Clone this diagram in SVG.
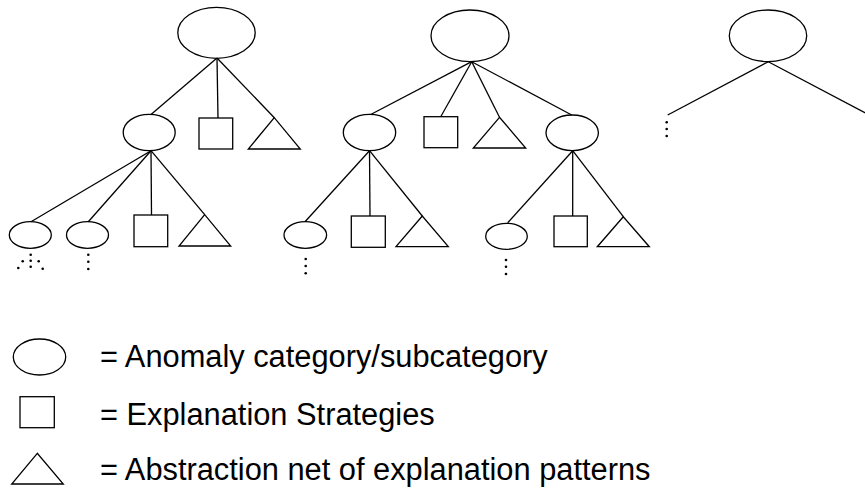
<svg xmlns="http://www.w3.org/2000/svg" width="865" height="489" viewBox="0 0 865 489">
<style>
.s{fill:none;stroke:#000;stroke-width:1.3}
.c line{stroke:#000;stroke-width:1.3}
.d{fill:#000}
.t{font-family:"Liberation Sans",Arial,sans-serif;font-size:30.8px;fill:#000}
</style>
<rect width="865" height="489" fill="#fff"/>
<g class="c" id="connectors">
<line x1="217" y1="58" x2="151" y2="114.5"/>
<line x1="217" y1="58" x2="218" y2="118"/>
<line x1="217" y1="58" x2="274.3" y2="117.7"/>
<line x1="151" y1="150.7" x2="31" y2="221.7"/>
<line x1="151" y1="150.7" x2="88.3" y2="221.7"/>
<line x1="151" y1="150.7" x2="151.5" y2="215"/>
<line x1="151" y1="150.7" x2="204.7" y2="214.7"/>
<line x1="471.7" y1="61.7" x2="370.7" y2="114.5"/>
<line x1="471.7" y1="61.7" x2="440.7" y2="116.7"/>
<line x1="471.7" y1="61.7" x2="499.5" y2="117.3"/>
<line x1="471.7" y1="61.7" x2="571.7" y2="115"/>
<line x1="369.5" y1="150.7" x2="305" y2="221.7"/>
<line x1="369.5" y1="150.7" x2="370" y2="216"/>
<line x1="369.5" y1="150.7" x2="422.3" y2="216"/>
<line x1="572.7" y1="150.7" x2="507.7" y2="222.7"/>
<line x1="572.7" y1="150.7" x2="572.7" y2="216"/>
<line x1="572.7" y1="150.7" x2="623.3" y2="216.7"/>
<line x1="768.3" y1="61.7" x2="667.7" y2="115"/>
<line x1="768.3" y1="61.7" x2="866" y2="113.3"/>
</g>
<g id="tree1-root"><ellipse class="s" cx="216.5" cy="32.8" rx="38.7" ry="25.5"/></g>
<g id="tree1-sub"><ellipse class="s" cx="149.2" cy="132.5" rx="26" ry="18.2"/></g>
<g id="tree1-es"><rect class="s" x="199" y="118" width="33.7" height="31"/></g>
<g id="tree1-an"><polygon class="s" points="274.3,117.7 248.3,149 300.3,149"/></g>
<g id="tree1-subsub1"><ellipse class="s" cx="30.3" cy="235" rx="21" ry="13.3"/></g>
<g id="tree1-subsub2"><ellipse class="s" cx="87.5" cy="235" rx="21" ry="13.3"/></g>
<g id="tree1-sub-es"><rect class="s" x="134" y="215" width="33.7" height="31.7"/></g>
<g id="tree1-sub-an"><polygon class="s" points="204.7,214.7 179,246 230.7,246"/></g>
<g id="dots1" class="d">
<circle cx="30.7" cy="254.7" r="1.3"/><circle cx="22.7" cy="261.3" r="1.3"/><circle cx="30.7" cy="260.7" r="1.3"/><circle cx="38.7" cy="261.3" r="1.3"/><circle cx="18.3" cy="268" r="1.3"/><circle cx="30.7" cy="266.7" r="1.3"/><circle cx="42.7" cy="268.7" r="1.3"/>
</g>
<g id="dots2" class="d">
<circle cx="88.3" cy="254.7" r="1.3"/><circle cx="88.3" cy="261.7" r="1.3"/><circle cx="88.3" cy="269" r="1.3"/>
</g>
<g id="tree2-root"><ellipse class="s" cx="470" cy="35.8" rx="39" ry="25.8"/></g>
<g id="tree2-sub1"><ellipse class="s" cx="369.5" cy="132.5" rx="26.2" ry="18.2"/></g>
<g id="tree2-es"><rect class="s" x="424" y="116.7" width="33.7" height="31"/></g>
<g id="tree2-an"><polygon class="s" points="499.5,117.3 473.3,148 525.7,148"/></g>
<g id="tree2-sub2"><ellipse class="s" cx="572.2" cy="132.8" rx="26.2" ry="17.8"/></g>
<g id="tree2-sub1-child"><ellipse class="s" cx="305.3" cy="235" rx="21.3" ry="13.3"/></g>
<g id="tree2-sub1-es"><rect class="s" x="351.3" y="216" width="34" height="31.3"/></g>
<g id="tree2-sub1-an"><polygon class="s" points="422.3,216 396,246.7 448.3,246.7"/></g>
<g id="dots3" class="d">
<circle cx="305.7" cy="259" r="1.3"/><circle cx="305.7" cy="266" r="1.3"/><circle cx="305.7" cy="273.3" r="1.3"/>
</g>
<g id="tree2-sub2-child"><ellipse class="s" cx="506.5" cy="236.3" rx="20.8" ry="13"/></g>
<g id="tree2-sub2-es"><rect class="s" x="554" y="216" width="33.3" height="30.7"/></g>
<g id="tree2-sub2-an"><polygon class="s" points="623.3,216.7 597.3,246.7 649.3,246.7"/></g>
<g id="dots4" class="d">
<circle cx="506" cy="260" r="1.3"/><circle cx="506" cy="266.7" r="1.3"/><circle cx="506" cy="274" r="1.3"/>
</g>
<g id="tree3-root"><ellipse class="s" cx="768" cy="35.8" rx="38.7" ry="25.8"/></g>
<g id="dots5" class="d">
<circle cx="666.7" cy="122.3" r="1.3"/><circle cx="666.7" cy="129" r="1.3"/><circle cx="666.7" cy="136" r="1.3"/>
</g>
<g id="legend-ellipse"><ellipse class="s" cx="39.5" cy="357" rx="26.2" ry="18"/><text class="t" x="100" y="366.5">= Anomaly category/subcategory</text></g>
<g id="legend-square"><rect class="s" x="20" y="396.7" width="34.3" height="31"/><text class="t" x="100" y="424.5">= Explanation Strategies</text></g>
<g id="legend-triangle"><polygon class="s" points="37.3,453.3 11.7,484 63.3,484"/><text class="t" x="100" y="480">= Abstraction net of explanation patterns</text></g>
</svg>
